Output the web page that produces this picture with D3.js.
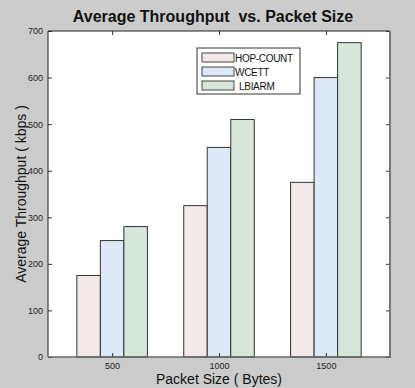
<!DOCTYPE html>
<html>
<head>
<meta charset="utf-8">
<script src="https://cdn.jsdelivr.net/npm/d3@7"></script>
<style>
  html, body { margin: 0; padding: 0; background: #cccccc; }
  svg { display: block; font-family: Arial, "Liberation Sans", sans-serif; }
</style>
</head>
<body>
<script>
// Average throughput (kbps) per packet size for each routing metric
const packetSizes = ["500", "1000", "1500"];
const seriesNames = ["HOP-COUNT", "WCETT", "LBIARM"];
const hopCount = [175, 325, 375];
const wcett = [250, 450, 600];
const lbiarm = [280, 510, 675];
const yTicks = [0, 100, 200, 300, 400, 500, 600, 700];
const seriesColors = ["#f3e9e9", "#dde9f8", "#d6e7da"];

const seriesValues = [hopCount, wcett, lbiarm];
const W = 415, H = 388;
const margin = { left: 48, right: 25, top: 31, bottom: 31 };
const pw = W - margin.left - margin.right;
const ph = H - margin.top - margin.bottom;

const svg = d3.select("body").append("svg").attr("width", W).attr("height", H);
svg.append("rect").attr("width", W).attr("height", H).attr("fill", "#cccccc");

const g = svg.append("g").attr("transform", `translate(${margin.left},${margin.top})`);

// Group positions: categories at 1..3 with a 0.6 margin on each side
const x = d3.scaleLinear().domain([0.4, 3.6]).range([0, pw]);
const y = d3.scaleLinear().domain([0, 700]).range([ph, 0]);
const groupW = (x(2) - x(1)) * 0.66;
const xInner = d3.scaleBand().domain(seriesNames).range([-groupW / 2, groupW / 2]);

// Plot area
g.append("rect").attr("width", pw).attr("height", ph).attr("fill", "#ffffff");

// Bars
packetSizes.forEach((p, i) => {
  seriesNames.forEach((s, j) => {
    const v = seriesValues[j][i];
    g.append("rect")
      .attr("x", x(i + 1) + xInner(s))
      .attr("y", y(v))
      .attr("width", xInner.bandwidth())
      .attr("height", ph - y(v))
      .attr("fill", seriesColors[j])
      .attr("stroke", "#333333")
      .attr("stroke-width", 1);
  });
});

// Axes with inward ticks
const tickFont = 9;
const yAxis = d3.axisLeft(y).tickValues(yTicks).tickSize(-4).tickPadding(5).tickSizeOuter(0);
const yg = g.append("g").call(yAxis);
const yR = g.append("g").attr("transform", `translate(${pw},0)`)
  .call(d3.axisRight(y).tickValues(yTicks).tickSize(-4).tickSizeOuter(0).tickFormat(""));
const xAxis = d3.axisBottom(x).tickValues([1, 2, 3]).tickFormat((d) => packetSizes[d - 1])
  .tickSize(-4).tickPadding(6).tickSizeOuter(0);
const xg = g.append("g").attr("transform", `translate(0,${ph})`).call(xAxis);
const xT = g.append("g")
  .call(d3.axisTop(x).tickValues([1, 2, 3]).tickSize(-4).tickSizeOuter(0).tickFormat(""));

[yg, yR, xg, xT].forEach((a) => {
  a.select(".domain").remove();
  a.selectAll("line").attr("stroke", "#333333");
  a.selectAll("text").attr("font-size", tickFont).attr("fill", "#222222")
    .attr("font-family", "Arial, 'Liberation Sans', sans-serif");
});

// Frame
g.append("line").attr("x1", 0).attr("x2", pw).attr("y1", 0).attr("y2", 0).attr("stroke", "#222");
g.append("line").attr("x1", 0).attr("x2", 0).attr("y1", 0).attr("y2", ph).attr("stroke", "#222");
g.append("line").attr("x1", pw).attr("x2", pw).attr("y1", 0).attr("y2", ph + 1)
  .attr("stroke", "#777").attr("stroke-width", 2);
g.append("line").attr("x1", 0).attr("x2", pw + 1).attr("y1", ph).attr("y2", ph)
  .attr("stroke", "#666").attr("stroke-width", 1.5);

// Legend
const lg = g.append("g").attr("transform", `translate(${197 - margin.left},${48 - margin.top})`);
lg.append("rect").attr("width", 103).attr("height", 46)
  .attr("fill", "#ffffff").attr("stroke", "#333").attr("stroke-width", 1);
seriesNames.forEach((s, j) => {
  const row = lg.append("g").attr("transform", `translate(5,${5 + j * 14})`);
  row.append("rect").attr("width", 32).attr("height", 9)
    .attr("fill", seriesColors[j]).attr("stroke", "#444").attr("stroke-width", 1);
  row.append("text").attr("x", j === 2 ? 37 : 33).attr("y", 8.5)
    .attr("font-size", 10).attr("fill", "#111").attr("letter-spacing", "-0.3")
    .text(s);
});

// Title and axis labels
svg.append("text").attr("x", 213).attr("y", 22).attr("text-anchor", "middle")
  .attr("font-size", 16).attr("font-weight", "bold").attr("fill", "#111")
  .attr("xml:space", "preserve").style("white-space", "pre")
  .text("Average Throughput  vs. Packet Size");

svg.append("text")
  .attr("transform", `translate(26,${margin.top + ph / 2}) rotate(-90)`)
  .attr("text-anchor", "middle").attr("font-size", 14).attr("fill", "#111")
  .text("Average Throughput ( kbps )");

svg.append("text").attr("x", margin.left + pw / 2).attr("y", 384)
  .attr("text-anchor", "middle").attr("font-size", 14).attr("fill", "#111")
  .text("Packet Size ( Bytes)");
</script>
</body>
</html>
